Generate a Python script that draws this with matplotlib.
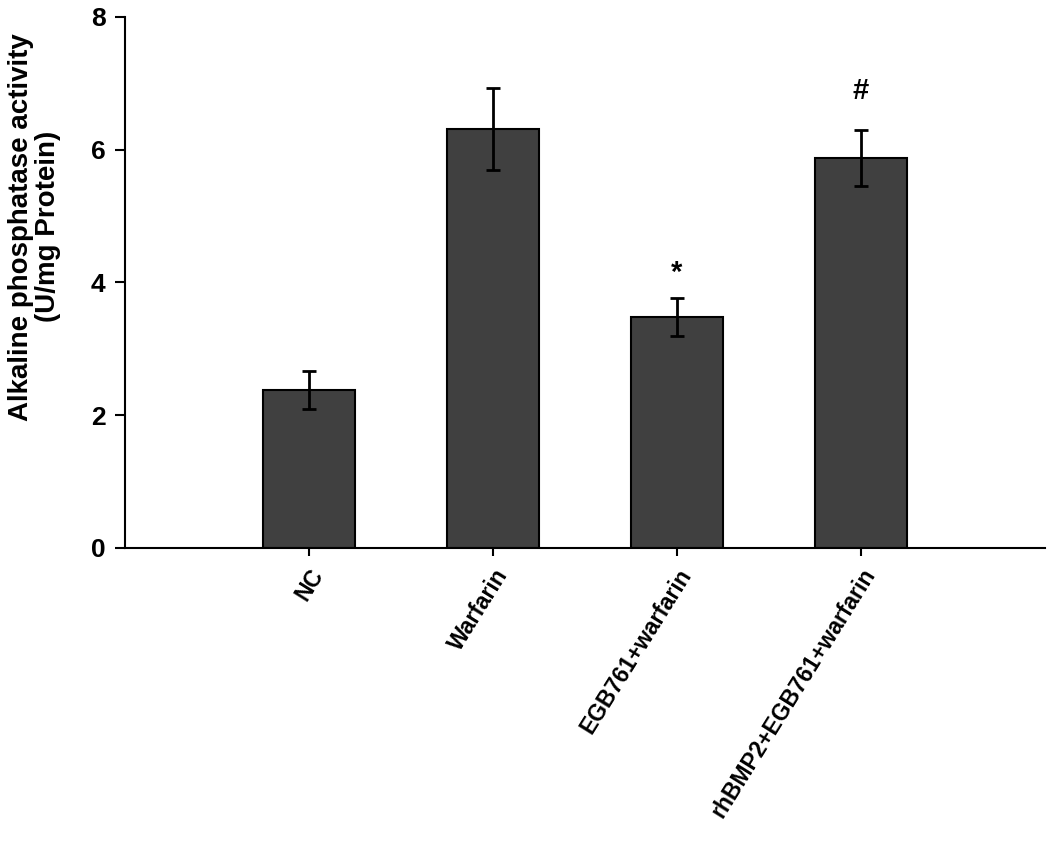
import matplotlib
matplotlib.use("Agg")
from matplotlib import pyplot as plt
import numpy as np

plt.rcParams['font.family'] = ['Liberation Sans', 'DejaVu Sans']
plt.rcParams['font.weight'] = 'bold'

groups = ["NC", "Warfarin", "EGB761+warfarin", "rhBMP2+EGB761+warfarin"]
alp = [2.38, 6.31, 3.48, 5.87]
sem = [0.28, 0.62, 0.29, 0.42]
marks = ["", "", "*", "#"]
mark_y = [None, None, 4.15, 6.88]

fig = plt.figure(figsize=(10.5, 8.43), dpi=100)
ax = fig.add_axes([0.119, 0.35, 0.876, 0.63])

x = np.arange(1, len(groups) + 1)
ax.bar(x, alp, width=0.5, color="#404040", edgecolor="black", linewidth=1.5, zorder=2)
ax.errorbar(x, alp, yerr=sem, fmt="none", ecolor="black", elinewidth=2,
            capsize=5, capthick=2, zorder=3)

for xi, m, my in zip(x, marks, mark_y):
    if m:
        ax.text(xi, my, m, ha="center", va="center", fontsize=21, fontweight="bold")

ax.set_xlim(0, 5)
ax.set_ylim(0, 8)
ax.set_yticks([0, 2, 4, 6, 8])
ax.set_xticks(x)
ax.set_xticklabels(groups, rotation=58, ha="right", va="top", rotation_mode="anchor",
                   fontsize=16.5, fontweight="bold")
ax.tick_params(axis="y", labelsize=19, length=7, width=1.5, direction="out", pad=7)
ax.tick_params(axis="x", length=6, width=1.5, direction="out", pad=6)
for lbl in ax.get_yticklabels():
    lbl.set_fontweight("bold")

ax.spines["top"].set_visible(False)
ax.spines["right"].set_visible(False)
ax.spines["left"].set_linewidth(1.5)
ax.spines["bottom"].set_linewidth(1.5)

ax.set_ylabel("Alkaline phosphatase activity\n(U/mg Protein)", fontsize=20,
              fontweight="bold", linespacing=1.05, va="center")
ax.yaxis.set_label_coords(-0.098, 0.605)

fig.savefig("out.png", dpi=100)
